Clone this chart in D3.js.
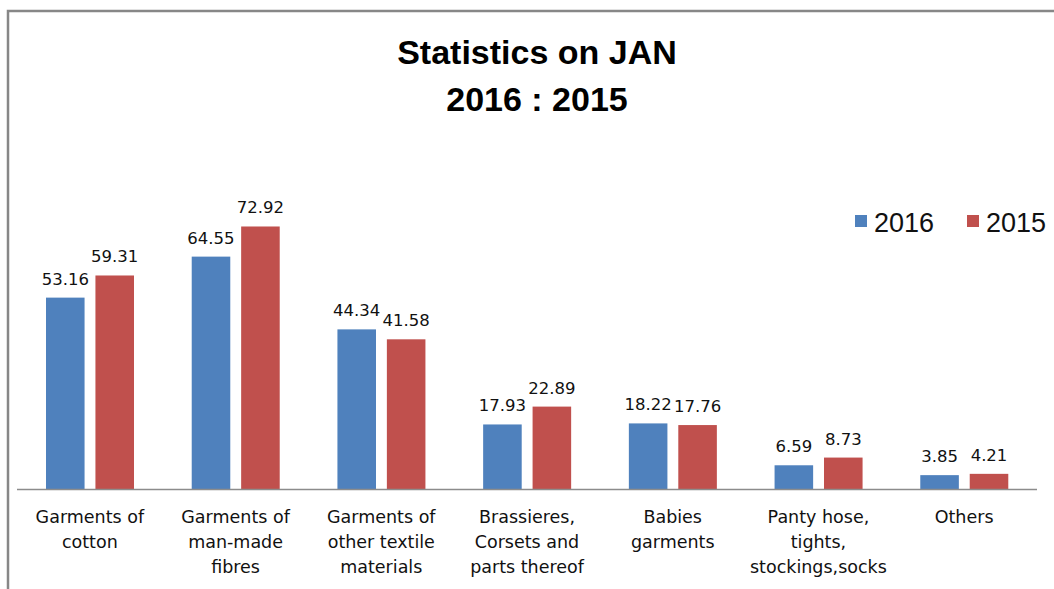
<!DOCTYPE html>
<html>
<head>
<meta charset="utf-8">
<script src="https://cdn.jsdelivr.net/npm/d3@7"></script>
<style>
  html, body { margin: 0; padding: 0; background: #fff; }
  svg { display: block; }
</style>
</head>
<body>
<div id="chart"></div>
<script>
// data
const categories = [
  'Garments of\ncotton',
  'Garments of\nman-made\nfibres',
  'Garments of\nother textile\nmaterials',
  'Brassieres,\nCorsets and\nparts thereof',
  'Babies\ngarments',
  'Panty hose,\ntights,\nstockings,socks',
  'Others'
];
const series = ['2016', '2015'];
const values2016 = [53.16, 64.55, 44.34, 17.93, 18.22, 6.59, 3.85];
const values2015 = [59.31, 72.92, 41.58, 22.89, 17.76, 8.73, 4.21];
const colors = ['#4F81BD', '#C0504D'];

const width = 1054, height = 589;

const svg = d3.select('#chart')
  .append('svg')
  .attr('width', width)
  .attr('height', height);

// chart area frame (only top and left edges are visible)
svg.append('path')
  .attr('d', 'M8,' + height + 'V11H' + width)
  .attr('fill', 'none')
  .attr('stroke', '#878787')
  .attr('stroke-width', 2.5);

// title
const title = svg.append('text')
  .attr('text-anchor', 'middle')
  .attr('font-family', 'Liberation Sans, Arial, sans-serif')
  .attr('font-weight', 'bold')
  .attr('font-size', 34)
  .attr('fill', '#000');
title.append('tspan').attr('x', 537).attr('y', 64).text('Statistics on JAN');
title.append('tspan').attr('x', 537).attr('y', 111).text('2016 : 2015');

const x0 = d3.scaleBand()
  .domain(categories)
  .range([17, 1037])
  .padding(0);

const x1 = d3.scaleBand()
  .domain(series)
  .range([29, 117])
  .paddingInner(0.22);

const y = d3.scaleLinear()
  .domain([0, 80])
  .range([489, 201]);

const rows = categories.map((c, i) => ({
  cat: c,
  vals: [
    { s: '2016', v: values2016[i], color: colors[0] },
    { s: '2015', v: values2015[i], color: colors[1] }
  ]
}));

const groups = svg.selectAll('.grp')
  .data(rows)
  .enter().append('g')
  .attr('class', 'grp')
  .attr('transform', d => 'translate(' + x0(d.cat) + ',0)');

groups.selectAll('rect')
  .data(d => d.vals)
  .enter().append('rect')
  .attr('x', d => x1(d.s))
  .attr('y', d => y(d.v))
  .attr('width', x1.bandwidth())
  .attr('height', d => y(0) - y(d.v))
  .attr('fill', d => d.color);

groups.selectAll('.val')
  .data(d => d.vals)
  .enter().append('text')
  .attr('class', 'val')
  .attr('x', d => x1(d.s) + x1.bandwidth() / 2)
  .attr('y', d => y(d.v) - 13)
  .attr('text-anchor', 'middle')
  .attr('font-family', 'DejaVu Sans, sans-serif')
  .attr('font-size', 16.5)
  .attr('fill', '#111')
  .text(d => d.v.toFixed(2));

// x axis line
svg.append('line')
  .attr('x1', x0.range()[0])
  .attr('x2', x0.range()[1])
  .attr('y1', y(0) + 0.5)
  .attr('y2', y(0) + 0.5)
  .attr('stroke', '#8c8c8c')
  .attr('stroke-width', 1.5);

// category labels, wrapped on \n
const catLabels = svg.selectAll('.cat')
  .data(categories)
  .enter().append('text')
  .attr('class', 'cat')
  .attr('text-anchor', 'middle')
  .attr('font-family', 'DejaVu Sans, sans-serif')
  .attr('font-size', 17.5)
  .attr('fill', '#111');

catLabels.each(function(d) {
  const cx = x0(d) + x0.bandwidth() / 2;
  d3.select(this).selectAll('tspan')
    .data(d.split('\n'))
    .enter().append('tspan')
    .attr('x', cx)
    .attr('y', (t, i) => 523 + i * 25)
    .text(t => t);
});

// legend
const legend = svg.append('g')
  .attr('font-family', 'Liberation Sans, Arial, sans-serif')
  .attr('font-size', 27);
const legendX = [855, 967];
series.forEach((s, i) => {
  legend.append('rect')
    .attr('x', legendX[i])
    .attr('y', 215)
    .attr('width', 12)
    .attr('height', 12)
    .attr('fill', colors[i]);
  legend.append('text')
    .attr('x', legendX[i] + 19)
    .attr('y', 232)
    .attr('fill', '#111')
    .text(s);
});
</script>
</body>
</html>
